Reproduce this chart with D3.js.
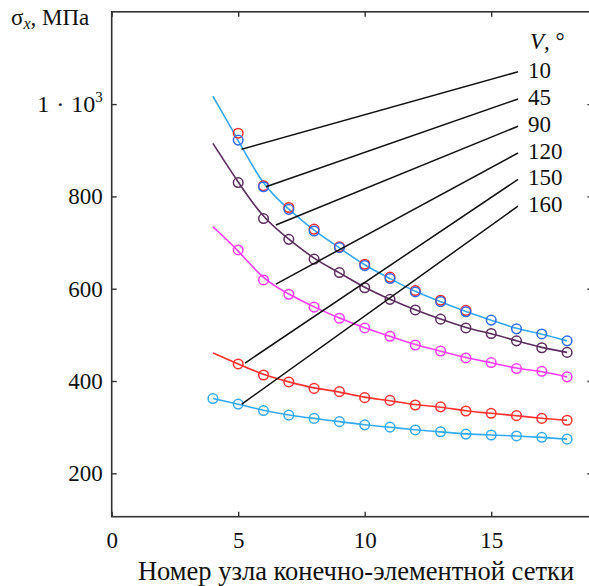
<!DOCTYPE html>
<html>
<head>
<meta charset="utf-8">
<script src="https://cdn.jsdelivr.net/npm/d3@7"></script>
<style>
  body { margin: 0; background: #fff; }
  text { font-family: "Liberation Serif", "Times New Roman", serif; fill: #111; }
</style>
</head>
<body>
<div class="chart"></div>
<script>
// node numbers of the FE mesh (x axis)
var nodes = [4, 5, 6, 7, 8, 9, 10, 11, 12, 13, 14, 15, 16, 17, 18];

// sigma_x, MPa for each angle V (values on nodes 4..18)
var v10  = [1017, 922, 821, 772, 725, 689, 650, 622, 593, 572, 550, 532, 513, 502, 487];
var v45  = [null, 937, 823, 776, 729, 691, 653, 625, 596, 575, 553, null, null, null, null];
var v90  = [915, 830, 752, 707, 664, 635, 602, 577, 554, 534, 515, 503, 487, 472, 462];
var v120 = [734, 684, 619, 588, 560, 536, 515, 497, 478, 465, 450, 440, 427, 421, 409];
var v150 = [461, 437, 413, 398, 384, 377, 364, 358, 348, 344, 335, 330, 325, 319, 315];
var v160 = [362, 350, 336, 326, 319, 312, 305, 300, 294, 290, 285, 283, 281, 278, 274];

var legendLabels = ["10", "45", "90", "120", "150", "160"];
// where each leader line touches its curve [node, MPa]
var leaderStart = [[5.13, 902], [6.1, 821], [6.49, 738], [6.49, 610], [5.27, 439], [5.14, 350]];
var leaderEnd = [1070, 1011, 952, 894, 837, 779];

var xTicks = [0, 5, 10, 15];
var yTicks = [200, 400, 600, 800, 1000];

var w = 589, h = 586;

var svg = d3.select(".chart").append("svg")
	.attr("width", w)
	.attr("height", h)
	.attr("font-family", "Liberation Serif, serif");

var x = d3.scaleLinear().domain([0, 19]).range([111.7, 592.4]);
var y = d3.scaleLinear().domain([106, 1200]).range([516.7, 11.8]);

// frame
svg.append("rect")
	.attr("x", x(0)).attr("y", y(1200))
	.attr("width", x(19) - x(0)).attr("height", y(106) - y(1200))
	.attr("fill", "none").attr("stroke", "#333").attr("stroke-width", 1.6);

var xAxis = d3.axisBottom(x).tickValues(xTicks).tickSize(-5).tickPadding(15);
var gx = svg.append("g").attr("transform", "translate(0," + y(106) + ")").call(xAxis);
gx.select(".domain").remove();
gx.selectAll("text").attr("font-size", 23).attr("fill", "#111");
gx.selectAll("line").attr("stroke", "#333").attr("stroke-width", 1.4);

var gxTop = svg.append("g").attr("transform", "translate(0," + y(1200) + ")")
	.call(d3.axisTop(x).tickValues(xTicks).tickSize(-5).tickFormat(""));
gxTop.select(".domain").remove();
gxTop.selectAll("line").attr("stroke", "#333").attr("stroke-width", 1.4);

var yAxis = d3.axisLeft(y).tickValues(yTicks).tickSize(-5).tickPadding(9)
	.tickFormat(function (d) { return d == 1000 ? "" : d; });
var gy = svg.append("g").attr("transform", "translate(" + x(0) + ",0)").call(yAxis);
gy.select(".domain").remove();
gy.selectAll("text").attr("font-size", 23).attr("fill", "#111");
gy.selectAll("line").attr("stroke", "#333").attr("stroke-width", 1.4);

var gyR = svg.append("g").attr("transform", "translate(" + x(19) + ",0)")
	.call(d3.axisRight(y).tickValues(yTicks).tickSize(-5).tickFormat(""));
gyR.select(".domain").remove();
gyR.selectAll("line").attr("stroke", "#333").attr("stroke-width", 1.4);

// 1·10^3 label
var t1000 = svg.append("text")
	.attr("x", x(0) - 9).attr("y", y(1000) + 8)
	.attr("text-anchor", "end").attr("font-size", 24);
t1000.append("tspan").text("1");
t1000.append("tspan").attr("dx", 7).text("\u00b7");
t1000.append("tspan").attr("dx", 7).text("10");
t1000.append("tspan").attr("font-size", 15).attr("dy", -10).text("3");

// y title
var ty = svg.append("text").attr("x", 11).attr("y", 25).attr("font-size", 23);
ty.append("tspan").text("\u03c3");
ty.append("tspan").attr("font-size", 16).attr("font-style", "italic").attr("dy", 4).text("x");
ty.append("tspan").attr("dy", -4).text(", \u041c\u041f\u0430");

// x title
svg.append("text")
	.attr("x", 356).attr("y", 580)
	.attr("text-anchor", "middle").attr("font-size", 26.5)
	.text("\u041d\u043e\u043c\u0435\u0440 \u0443\u0437\u043b\u0430 \u043a\u043e\u043d\u0435\u0447\u043d\u043e-\u044d\u043b\u0435\u043c\u0435\u043d\u0442\u043d\u043e\u0439 \u0441\u0435\u0442\u043a\u0438");

// curves
var series = [
	{ vals: v10, line: "#36a9f5", dot: "#2f6cf5", from: 1 },
	{ vals: v90, line: "#5b2d5e", dot: "#5b2d5e", from: 1 },
	{ vals: v120, line: "#ff3cff", dot: "#ff3cff", from: 1 },
	{ vals: v150, line: "#ff3030", dot: "#ff3030", from: 1 },
	{ vals: v160, line: "#36a9f5", dot: "#36a9f5", from: 0 }
];

var line = d3.line()
	.x(function (d) { return x(d[0]); })
	.y(function (d) { return y(d[1]); })
	.curve(d3.curveBasis);

series.forEach(function (s) {
	svg.append("path")
		.attr("d", line(nodes.map(function (n, i) { return [n, s.vals[i]]; })))
		.attr("fill", "none")
		.attr("stroke", s.line)
		.attr("stroke-width", 1.6);
});

// red points for V = 45 (lie on the V = 10 curve)
svg.selectAll("circle.v45")
	.data(nodes.map(function (n, i) { return [n, v45[i]]; }).filter(function (d) { return d[1] != null; }))
	.enter().append("circle")
	.attr("class", "v45")
	.attr("cx", function (d) { return x(d[0]); })
	.attr("cy", function (d) { return y(d[1]); })
	.attr("r", 4.8)
	.attr("fill", "none").attr("stroke", "#ff2a2a").attr("stroke-width", 1.5);

series.forEach(function (s, k) {
	svg.selectAll("circle.s" + k)
		.data(nodes.map(function (n, i) { return [n, s.vals[i]]; }).slice(s.from))
		.enter().append("circle")
		.attr("class", "s" + k)
		.attr("cx", function (d) { return x(d[0]); })
		.attr("cy", function (d) { return y(d[1]); })
		.attr("r", 4.8)
		.attr("fill", "none").attr("stroke", s.dot).attr("stroke-width", 1.5);
});

// leader lines and legend labels
var xEnd = 16.06;
legendLabels.forEach(function (lab, i) {
	svg.append("line")
		.attr("x1", x(leaderStart[i][0])).attr("y1", y(leaderStart[i][1]))
		.attr("x2", x(xEnd)).attr("y2", y(leaderEnd[i]))
		.attr("stroke", "#111").attr("stroke-width", 1.5);
	svg.append("text")
		.attr("x", x(xEnd) + 10).attr("y", y(leaderEnd[i]) + 6)
		.attr("font-size", 23)
		.text(lab);
});

var tv = svg.append("text").attr("x", x(xEnd) + 12).attr("y", 49).attr("font-size", 23);
tv.append("tspan").attr("font-style", "italic").text("V");
tv.append("tspan").text(", \u00b0");
</script>
</body>
</html>
